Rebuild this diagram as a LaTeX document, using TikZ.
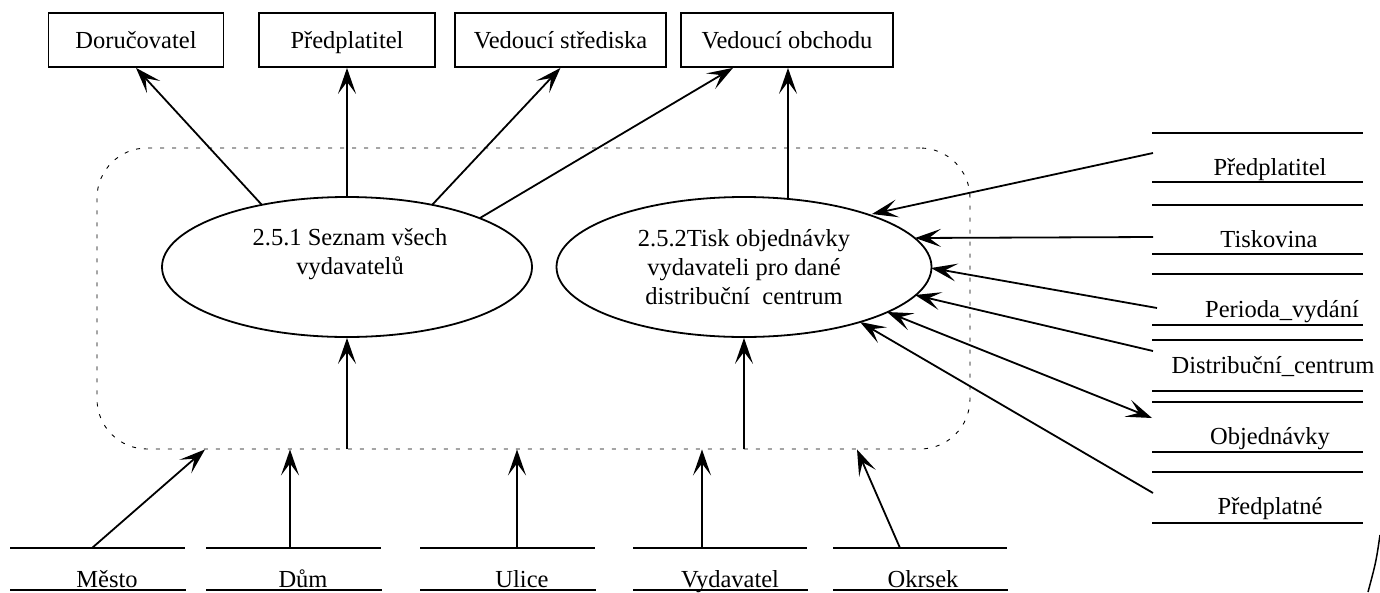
\documentclass[tikz,border=0pt]{standalone}
\usepackage{fontspec}
\setmainfont{Liberation Serif}
\usetikzlibrary{arrows.meta,shapes.geometric}
\begin{document}
\begin{tikzpicture}[x=1pt,y=-1pt,
  every node/.style={font=\fontsize{24.5}{29}\selectfont},
  box/.style={draw, line width=1.8pt, minimum width=#1, minimum height=54pt, inner sep=0pt, text height=17pt, text depth=0pt},
  proc/.style={draw, ellipse, line width=1.8pt, minimum width=#1, minimum height=140pt, inner sep=0pt},
  lbl/.style={anchor=base, inner sep=0pt},
  stline/.style={line width=2pt},
  tipA/.tip={Stealth[length=26pt,width=18pt,inset=12pt]},
  arr/.style={line width=1.8pt, -tipA},
  arrb/.style={line width=1.8pt, tipA-tipA},
  sysbox/.style={draw, dash pattern=on 4pt off 8pt, line width=0.9pt, rounded corners=50pt, minimum width=873pt, minimum height=301pt, inner sep=0pt}
]
\useasboundingbox (0,0) rectangle (1380,592);

% system boundary
\node[sysbox] (sys) at (533.5,298.5) {};

% top external entities
\node[box=175pt] (tDor) at (136,40) {Doručovatel};
\node[box=176pt] (tPred) at (347,40) {Předplatitel};
\node[box=211pt] (tVS) at (560.5,40) {Vedoucí střediska};
\node[box=212pt] (tVO) at (787,40) {Vedoucí obchodu};

% processes
\node[proc=370pt] (p1) at (347,267) {};
\node[proc=375pt] (p2) at (744,267) {};
\node[lbl, align=center] (p1t) at (350,274) {2.5.1 Seznam všech\\vydavatelů};
\node[lbl, align=center] (p2t) at (744,304) {2.5.2Tisk objednávky\\vydavateli pro dané\\distribuční\ \ centrum};

% right data stores
\node[lbl] (sPred) at (1270,175) {Předplatitel};
\node[lbl] (sTisk) at (1269,247) {Tiskovina};
\node[lbl] (sPer) at (1282,317) {Perioda\_vydání};
\node[lbl] (sDist) at (1273,373) {Distribuční\_centrum};
\node[lbl] (sObj) at (1270,444) {Objednávky};
\node[lbl] (sPrne) at (1270,514) {Předplatné};
\draw[stline] (1152,133) -- (1363,133) (1152,182) -- (1363,182);
\draw[stline] (1152,205) -- (1363,205) (1152,254) -- (1363,254);
\draw[stline] (1152,274) -- (1363,274) (1152,325) -- (1363,325);
\draw[stline] (1152,340) -- (1363,340) (1152,391) -- (1363,391);
\draw[stline] (1152,402) -- (1363,402) (1152,452) -- (1363,452);
\draw[stline] (1152,472) -- (1363,472) (1152,523) -- (1363,523);

% bottom data stores
\node[lbl] (bMesto) at (107,587) {Město};
\node[lbl] (bDum) at (303,587) {Dům};
\node[lbl] (bUlice) at (522,587) {Ulice};
\node[lbl] (bVyd) at (730,587) {Vydavatel};
\node[lbl] (bOkr) at (923,587) {Okrsek};
\draw[stline] (10,548) -- (185,548) (10,590) -- (186,590);
\draw[stline] (206,548) -- (381,548) (206,590) -- (382,590);
\draw[stline] (420,548) -- (595,548) (420,590) -- (596,590);
\draw[stline] (633,548) -- (807,548) (633,590) -- (808,590);
\draw[stline] (833,548) -- (1007,548) (833,590) -- (1008,590);

% connector end points
\coordinate (q1) at (262,205);
\coordinate (q2) at (432,205);
\coordinate (q3) at (480,218);
\coordinate (q4) at (788,199);
\coordinate (rPred) at (1153,153);
\coordinate (rTisk) at (1153,237);
\coordinate (rPer) at (1157,308);
\coordinate (rDist) at (1153,351);
\coordinate (rObj) at (1152,418);
\coordinate (rPrne) at (1153,493);
\coordinate (e2a) at (872,214);
\coordinate (e2b) at (915,238);
\coordinate (e2c) at (931,268);
\coordinate (e2d) at (915,295);
\coordinate (e2e) at (887,312);
\coordinate (e2f) at (860,322);
\coordinate (cMesto) at (92,548);
\coordinate (cDum) at (290,548);
\coordinate (cUlice) at (517,548);
\coordinate (cVyd) at (702,548);
\coordinate (cOkr) at (900,548);

% top connectors
\draw[arr] (q1) -- (tDor.south);
\draw[arr] (p1.north) -- (p1.north |- tPred.south);
\draw[arr] (q2) -- (tVS.south);
\draw[arr] (q3) -- (733,0 |- tVO.south);
\draw[arr] (q4) -- (q4 |- tVO.south);

% right connectors
\draw[arr] (rPred) -- (e2a);
\draw[arr] (rTisk) -- (e2b);
\draw[arr] (rPer) -- (e2c);
\draw[arr] (rDist) -- (e2d);
\draw[arrb] (e2e) -- (rObj);
\draw[arr] (rPrne) -- (e2f);

% bottom connectors
\draw[arr] (cMesto) -- (205,0 |- sys.south);
\draw[arr] (cDum) -- (cDum |- sys.south);
\draw[arr] (cUlice) -- (cUlice |- sys.south);
\draw[arr] (cVyd) -- (cVyd |- sys.south);
\draw[arr] (cOkr) -- (857,0 |- sys.south);
\draw[arr] (p1.south |- sys.south) -- (p1.south);
\draw[arr] (p2.south |- sys.south) -- (p2.south);

% partial arc at lower right
\draw[line width=1.5pt] (1380,535) .. controls (1376,562) .. (1368,592);
\end{tikzpicture}
\end{document}
